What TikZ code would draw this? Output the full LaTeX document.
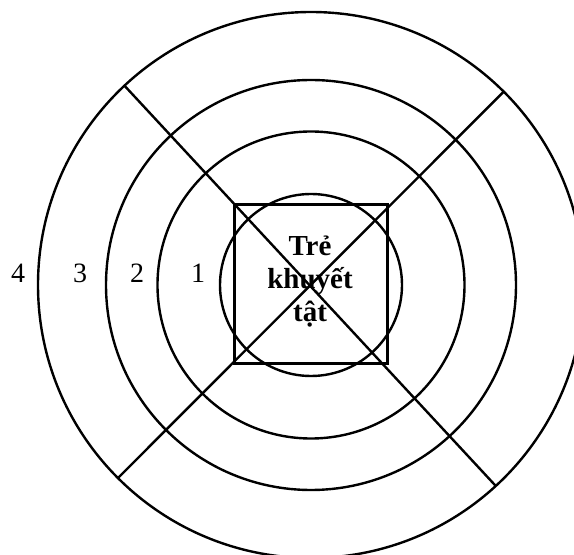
\documentclass[tikz,border=0pt]{standalone}
\usepackage{fontspec}
\setmainfont{Liberation Serif}
\usepackage{tikz}

\begin{document}
\begin{tikzpicture}[x=1pt, y=1pt, ring/.style={draw, line width=2.4pt}, every node/.style={inner sep=0pt,
  font=\fontsize{28}{33}\selectfont}, num/.style={anchor=base}]
  \useasboundingbox (0,0) rectangle (574,555);
  \coordinate (c) at (311,270);
  \draw[ring] (c) circle[radius=273]; \draw[ring] (c) circle[radius=205];
  \draw[ring] (c) circle[radius=153.5]; \draw[ring] (c) circle[radius=91];
  \node[draw, line width=3pt, minimum width=153, minimum height=159] (box) at (310.5,270.5) {};
  \path (c) ++(133.1:273) coordinate (nw); \path (c) ++(-47.4:273) coordinate (se);
  \path (c) ++(45.1:273) coordinate (ne); \path (c) ++(225:273) coordinate (sw);
  \draw[ring] (nw) -- (se); \draw[ring] (ne) -- (sw);
  \node[font=\bfseries\fontsize{29}{33}\selectfont, align=center] (kid) at (310,273) {Trẻ\\khuyết\\tật};
  \node[num] (r4) at (18,272) {4}; \node[num] (r3) at (80,272) {3};
  \node[num] (r2) at (137,272) {2}; \node[num] (r1) at (198,272) {1};
\end{tikzpicture}
\end{document}
